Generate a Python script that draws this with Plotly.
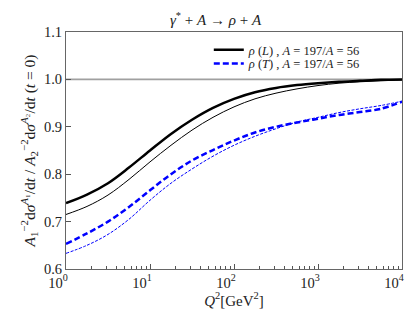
import plotly.graph_objects as go

Q2 = [1.0, 1.778, 3.162, 5.623, 10.0, 17.78, 31.62, 56.23, 100.0, 177.8, 316.2, 562.3,
      1000.0, 1778.0, 3162.0, 5623.0, 10000.0]
L_thick = [0.739, 0.757, 0.781, 0.814, 0.850, 0.885, 0.915, 0.940, 0.959, 0.973, 0.982, 0.988,
           0.992, 0.995, 0.997, 0.999, 1.000]
L_thin = [0.715, 0.732, 0.756, 0.789, 0.826, 0.861, 0.893, 0.920, 0.942, 0.959, 0.971, 0.980,
          0.987, 0.992, 0.995, 0.997, 0.999]
T_thick = [0.653, 0.675, 0.700, 0.731, 0.766, 0.800, 0.829, 0.851, 0.871, 0.888, 0.900, 0.909,
           0.917, 0.925, 0.931, 0.938, 0.953]
T_thin = [0.633, 0.650, 0.673, 0.705, 0.745, 0.781, 0.811, 0.838, 0.861, 0.880, 0.896, 0.910,
          0.920, 0.930, 0.938, 0.945, 0.954]

xtick_vals = [1, 10, 100, 1000, 10000]
xtick_text = ["10<sup>0</sup>", "10<sup>1</sup>", "10<sup>2</sup>", "10<sup>3</sup>", "10<sup>4</sup>"]
ytick_vals = [0.6, 0.7, 0.8, 0.9, 1.0, 1.1]

FONT = "Liberation Serif"
TXT = "#222"
legend_label_L = "<i>ρ</i> (<i>L</i>) , <i>A</i> = 197/<i>A</i> = 56"
legend_label_T = "<i>ρ</i> (<i>T</i>) , <i>A</i> = 197/<i>A</i> = 56"

fig = go.Figure()
fig.add_trace(go.Scatter(x=[1, 10000], y=[1.0, 1.0], mode="lines",
                         line=dict(color="#a0a0a0", width=1.6), showlegend=False, hoverinfo="skip"))
fig.add_trace(go.Scatter(x=Q2, y=L_thin, mode="lines", showlegend=False,
                         line=dict(color="black", width=1, shape="spline")))
fig.add_trace(go.Scatter(x=Q2, y=T_thin, mode="lines", showlegend=False,
                         line=dict(color="blue", width=1, dash="3px,1.5px", shape="spline")))
fig.add_trace(go.Scatter(x=Q2, y=L_thick, mode="lines", name=legend_label_L, legend="legend",
                         line=dict(color="black", width=2.5, shape="spline")))
fig.add_trace(go.Scatter(x=Q2, y=T_thick, mode="lines", name=legend_label_T, legend="legend2",
                         line=dict(color="blue", width=2.5, dash="6px,3px", shape="spline")))

leg_common = dict(x=0.425, xanchor="left", yanchor="middle", bgcolor="rgba(255,255,255,0)",
                  font=dict(size=12.5, family=FONT, color=TXT), itemwidth=30, borderwidth=0)

fig.update_layout(
    width=415, height=311,
    margin=dict(l=58, r=21, t=24, b=50),
    paper_bgcolor="white", plot_bgcolor="white",
    font=dict(family=FONT, size=14, color=TXT),
    title=dict(text="<i>γ</i><sup>*</sup> + <i>A</i> → <i>ρ</i> + <i>A</i>", x=0.5, xanchor="center",
               yref="container", y=0.962, yanchor="middle", font=dict(size=15, family=FONT, color=TXT)),
    legend=dict(y=0.924, **leg_common),
    legend2=dict(y=0.865, **leg_common),
    showlegend=True,
)
fig.update_xaxes(
    type="log", range=[0, 4], tickvals=xtick_vals, ticktext=xtick_text,
    ticks="inside", ticklen=5, tickcolor="#555", showgrid=False, zeroline=False,
    showline=True, linecolor="#666", linewidth=1.2, mirror=True,
    minor=dict(ticks="inside", ticklen=2.5, tickcolor="#555", dtick="D1", showgrid=False),
    tickfont=dict(size=14.5, family=FONT), ticklabelstandoff=0, ticklabelshift=-8,
    title=dict(text="<i>Q</i><sup>2</sup>[GeV<sup>2</sup>]", font=dict(size=15, family=FONT), standoff=0),
)
fig.update_yaxes(
    range=[0.6, 1.1], tickvals=ytick_vals, tickformat=".1f",
    ticks="inside", ticklen=5, tickcolor="#555", showgrid=False, zeroline=False,
    showline=True, linecolor="#666", linewidth=1.2, mirror=True,
    tickfont=dict(size=14.5, family=FONT),
    title=dict(text="<i>A</i><sub>1</sub><sup>−2</sup>d<i>σ</i><sup><i>A</i>₁</sup>/d<i>t</i> / "
                    "<i>A</i><sub>2</sub><sup>−2</sup>d<i>σ</i><sup><i>A</i>₂</sup>/d<i>t</i> (<i>t</i> = 0)",
               font=dict(size=15.5, family=FONT), standoff=4),
)

fig.write_html("out.html")
